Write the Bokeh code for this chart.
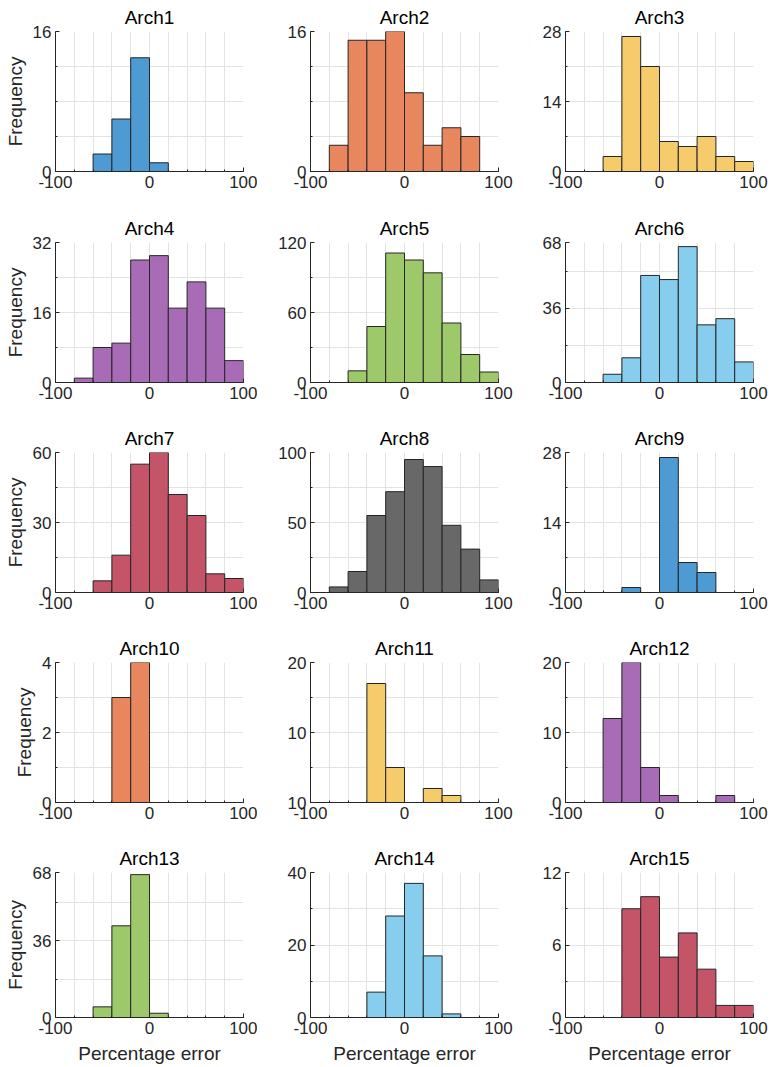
from bokeh.plotting import figure
from bokeh.layouts import gridplot
from bokeh.models import Range1d, FixedTicker
from bokeh.embed import file_html
from bokeh.resources import INLINE

# ---------------- data ----------------
bin_edges = [-100, -80, -60, -40, -20, 0, 20, 40, 60, 80, 100]
titles = ["Arch1", "Arch2", "Arch3", "Arch4", "Arch5", "Arch6", "Arch7", "Arch8",
          "Arch9", "Arch10", "Arch11", "Arch12", "Arch13", "Arch14", "Arch15"]

arch1 = [0, 0, 2, 6, 13, 1, 0, 0, 0, 0]
arch2 = [0, 3, 15, 15, 16, 9, 3, 5, 4, 0]
arch3 = [0, 0, 3, 27, 21, 6, 5, 7, 3, 2]
arch4 = [0, 1, 8, 9, 28, 29, 17, 23, 17, 5]
arch5 = [0, 0, 10, 48, 111, 105, 94, 51, 24, 9]
arch6 = [0, 0, 4, 12, 52, 50, 66, 28, 31, 10]
arch7 = [0, 0, 5, 16, 55, 60, 42, 33, 8, 6]
arch8 = [0, 4, 15, 55, 72, 95, 90, 48, 31, 9]
arch9 = [0, 0, 0, 1, 0, 27, 6, 4, 0, 0]
arch10 = [0, 0, 0, 3, 4, 0, 0, 0, 0, 0]
arch11 = [0, 0, 0, 17, 5, 0, 2, 1, 0, 0]
arch12 = [0, 0, 12, 20, 5, 1, 0, 0, 1, 0]
arch13 = [0, 0, 5, 43, 67, 2, 0, 0, 0, 0]
arch14 = [0, 0, 0, 7, 28, 37, 17, 1, 0, 0]
arch15 = [0, 0, 0, 9, 10, 5, 7, 4, 1, 1]
counts = [arch1, arch2, arch3, arch4, arch5, arch6, arch7, arch8,
          arch9, arch10, arch11, arch12, arch13, arch14, arch15]

y_max = [16, 16, 28, 32, 120, 68, 60, 100, 28, 4, 20, 20, 68, 40, 12]
y_ticks = [[0, 16], [0, 16], [0, 14, 28], [0, 16, 32], [0, 60, 120], [0, 36, 68],
           [0, 30, 60], [0, 50, 100], [0, 14, 28], [0, 2, 4], [0, 10, 20],
           [0, 10, 20], [0, 36, 68], [0, 20, 40], [0, 6, 12]]
y_tick_labels = [["0", "16"], ["0", "16"], ["0", "14", "28"], ["0", "16", "32"],
                 ["0", "60", "120"], ["0", "36", "68"], ["0", "30", "60"],
                 ["0", "50", "100"], ["0", "14", "28"], ["0", "2", "4"],
                 ["10", "10", "20"], ["0", "10", "20"], ["0", "36", "68"],
                 ["0", "20", "40"], ["0", "6", "12"]]
y_grid = [[0, 4, 8, 12, 16], [0, 4, 8, 12, 16], [0, 7, 14, 21, 28], [0, 8, 16, 24, 32],
          [0, 30, 60, 90, 120], [0, 18, 36, 54, 68], [0, 15, 30, 45, 60],
          [0, 25, 50, 75, 100], [0, 7, 14, 21, 28], [0, 1, 2, 3, 4],
          [0, 5, 10, 15, 20], [0, 5, 10, 15, 20], [0, 18, 36, 54, 68],
          [0, 10, 20, 30, 40], [0, 3, 6, 9, 12]]
x_ticks = [-100, 0, 100]
x_tick_labels = ["-100", "0", "100"]

colors = ["#4E9BD3", "#E8875E", "#F5CB6C", "#A86CB6", "#9DC96A", "#86CDEE", "#C45468",
          "#686868", "#4E9BD3", "#E8875E", "#F5CB6C", "#A86CB6", "#9DC96A", "#86CDEE",
          "#C45468"]

FONT = "Liberation Sans"
TXT = "#262626"

figs = []
for i in range(15):
    r, c = divmod(i, 3)
    last = (r == 4)
    lefts = [55, 53, 51]
    rights = [14, 16, 18]
    top = 31 if r == 0 else 32
    fh = 145 if last else 140
    bottom = 50 if last else (210 - top - fh)
    p = figure(width=257, height=top + fh + bottom,
               min_border_left=lefts[c], min_border_right=rights[c],
               min_border_top=top, min_border_bottom=bottom,
               x_range=Range1d(-100, 100), y_range=Range1d(0, y_max[i]),
               output_backend="svg", toolbar_location=None)
    p.title.text = titles[i]
    p.title.align = "center"
    p.title.text_font = FONT
    p.title.text_font_size = "19px"
    p.title.text_font_style = "normal"
    p.title.text_color = "#000000"
    p.title.standoff = 7
    p.outline_line_color = None
    p.background_fill_color = "white"

    p.quad(left=bin_edges[:-1], right=bin_edges[1:], bottom=0, top=counts[i],
           fill_color=colors[i], fill_alpha=1.0, line_color=TXT, line_width=1)

    p.xaxis.ticker = FixedTicker(ticks=x_ticks, minor_ticks=bin_edges)
    p.xaxis.major_label_overrides = {t: l for t, l in zip(x_ticks, x_tick_labels)}
    p.yaxis.ticker = FixedTicker(ticks=y_ticks[i], minor_ticks=y_grid[i])
    p.yaxis.major_label_overrides = {t: l for t, l in zip(y_ticks[i], y_tick_labels[i])}
    p.xgrid.ticker = FixedTicker(ticks=bin_edges)
    p.ygrid.ticker = FixedTicker(ticks=y_grid[i])
    for g in (p.xgrid, p.ygrid):
        g.grid_line_color = "#E3E3E3"
        g.grid_line_width = 1

    for ax in (p.xaxis, p.yaxis):
        ax.axis_line_color = TXT
        ax.axis_line_width = 1
        ax.major_tick_in = 4
        ax.major_tick_out = 0
        ax.minor_tick_in = 2
        ax.minor_tick_out = 0
        ax.major_tick_line_color = TXT
        ax.minor_tick_line_color = TXT
        ax.major_label_text_font = FONT
        ax.major_label_text_font_size = "17px"
        ax.major_label_text_color = TXT
        ax.axis_label_text_font = FONT
        ax.axis_label_text_font_size = "19px"
        ax.axis_label_text_font_style = "normal"
        ax.axis_label_text_color = TXT
    p.xaxis.major_label_standoff = 4
    p.yaxis.major_label_standoff = 4
    if c == 0:
        p.yaxis.axis_label = "Frequency"
        p.yaxis.axis_label_standoff = 4
    if last:
        p.xaxis.axis_label = "Percentage error"
        p.xaxis.axis_label_standoff = 6
    figs.append(p)

grid = gridplot([figs[k:k + 3] for k in range(0, 15, 3)], toolbar_location=None)

open("out.html", "w").write(file_html(grid, INLINE))
